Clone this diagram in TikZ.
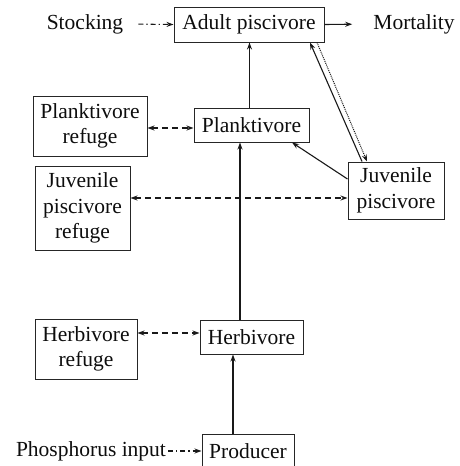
\documentclass[tikz,border=0pt]{standalone}
\usepackage{fontspec}
\setmainfont{Liberation Serif}
\usetikzlibrary{arrows.meta}
\begin{document}
\begin{tikzpicture}[x=1pt,y=-1pt,
  txt/.style={font=\fontsize{21.5}{25.5}\selectfont, text=black!95, inner sep=0pt},
  box/.style={txt, draw=black!85, line width=1pt, align=center, minimum width=#1},
  lnk/.style={line width=1.1pt, draw=black!90, -{Stealth[length=7pt,width=5pt]}},
  bilnk/.style={line width=1.1pt, draw=black!90, {Stealth[length=7pt,width=5pt]}-{Stealth[length=7pt,width=5pt]}, dash pattern=on 6pt off 4pt},
  ddlnk/.style={lnk, dash pattern=on 5pt off 3pt on 1.2pt off 3pt},
  dotlnk/.style={lnk, line width=1pt, dash pattern=on 1pt off 1pt}
]
\useasboundingbox (0,0) rectangle (459,466);
\node[box=150, minimum height=35] (adult) at (249,24.5) {Adult piscivore};
\node[box=115, minimum height=34] (plank) at (251.5,125) {Planktivore};
\node[box=114, minimum height=60] (plankref) at (90,126) {Planktivore\\refuge};
\node[box=95, minimum height=84] (juvref) at (82.5,208) {Juvenile\\piscivore\\refuge};
\node[box=96, minimum height=57] (juv) at (396,190.5) {Juvenile\\piscivore};
\node[box=102, minimum height=60] (herbref) at (86,349) {Herbivore\\refuge};
\node[box=103, minimum height=34] (herb) at (251.5,337) {Herbivore};
\node[box=92, minimum height=34] (prod) at (248,451) {Producer};
\node[txt] (stock) at (85,24) {Stocking};
\node[txt] (mort) at (414,24) {Mortality};
\node[txt] (phos) at (91,451) {Phosphorus input};

\draw[ddlnk, shorten <=15pt] (stock.east) -- (adult.west);
\draw[lnk, shorten >=21pt] (adult.east) -- (mort.west);
\draw[lnk] ([xshift=-2pt]plank.north) -- ([xshift=-2pt]plank.north |- adult.south);
\draw[lnk] ([xshift=-11.5pt]herb.north) -- ([xshift=-11.5pt]herb.north |- plank.south);
\draw[lnk] ([xshift=-15pt]prod.north) -- ([xshift=-15pt]prod.north |- herb.south);
\draw[lnk] ([yshift=11.5pt]juv.west) -- ([xshift=40.5pt]plank.south);
\draw[lnk] ([xshift=-34pt]juv.north) -- ([xshift=61pt]adult.south);
\draw[dotlnk] ([xshift=68pt]adult.south) -- ([xshift=-29pt]juv.north);
\draw[bilnk] ([yshift=-2pt]plankref.east) -- ([yshift=-2pt]plankref.east -| plank.west);
\draw[bilnk] ([yshift=10pt]juvref.east) -- ([yshift=10pt]juvref.east -| juv.west);
\draw[bilnk] ([yshift=16pt]herbref.east) -- ([yshift=16pt]herbref.east -| herb.west);
\draw[ddlnk, shorten <=2pt] (phos.east) -- (prod.west);
\end{tikzpicture}
\end{document}
